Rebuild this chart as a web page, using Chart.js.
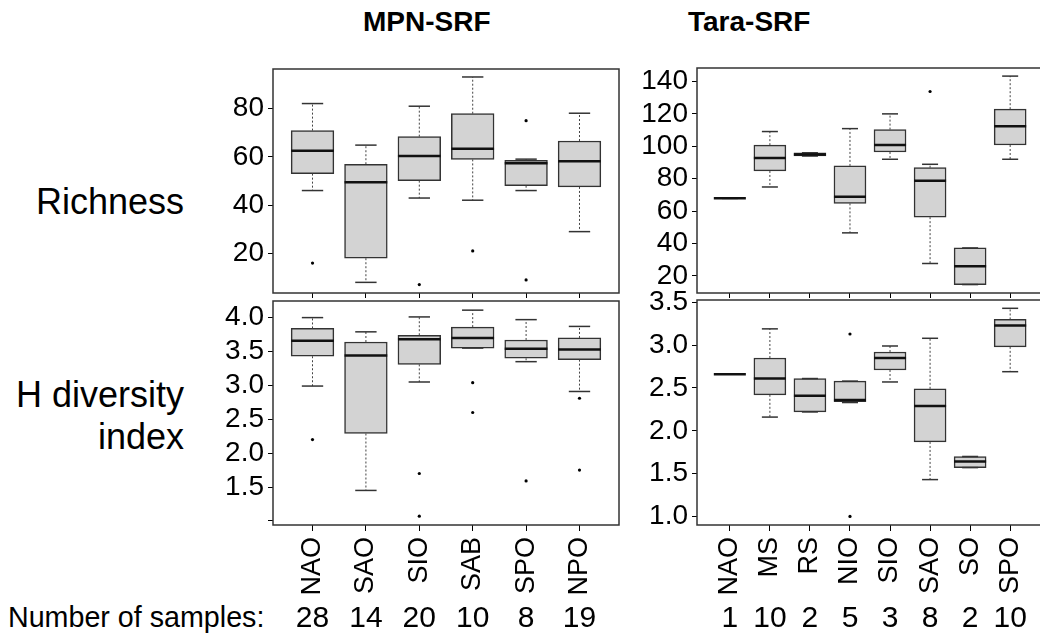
<!DOCTYPE html>
<html>
<head>
<meta charset="utf-8">
<script src="https://cdn.jsdelivr.net/npm/chart.js@4.4.1/dist/chart.umd.min.js"></script>
<style>
body { margin: 0; width: 1040px; height: 637px; overflow: hidden; background: #fff; position: relative;
       font-family: "Liberation Sans", Arial, sans-serif; color: #000; }
canvas { position: absolute; }
.lbl { position: absolute; white-space: nowrap; line-height: 1; }
</style>
</head>
<body>
<div class="lbl" style="left:363px; top:8px; font-size:28px; font-weight:bold;">MPN-SRF</div>
<div class="lbl" style="left:688px; top:8px; font-size:28px; font-weight:bold;">Tara-SRF</div>
<div class="lbl" style="right:856px; top:184px; font-size:36px; text-align:right;">Richness</div>
<div class="lbl" style="right:856px; top:377px; font-size:36px; text-align:right;">H diversity</div>
<div class="lbl" style="right:856px; top:419px; font-size:36px; text-align:right;">index</div>
<div class="lbl" style="left:8px; top:602px; font-size:30px; transform:scaleX(0.955); transform-origin:left;">Number of samples:</div>

<canvas id="richMpn" width="461" height="262" style="left:178px; top:49px;"></canvas>
<canvas id="richTara" width="461" height="263" style="left:602px; top:48px;"></canvas>
<canvas id="divMpn" width="461" height="356" style="left:178px; top:281px;"></canvas>
<canvas id="divTara" width="461" height="357" style="left:602px; top:280px;"></canvas>

<script>
// Regions and number of samples
var mpnRegions = ["NAO", "SAO", "SIO", "SAB", "SPO", "NPO"];
var mpnSamples = [28, 14, 20, 10, 8, 19];
var taraRegions = ["NAO", "MS", "RS", "NIO", "SIO", "SAO", "SO", "SPO"];
var taraSamples = [1, 10, 2, 5, 3, 8, 2, 10];

// Richness, MPN-SRF (whisker low, Q1, median, Q3, whisker high, outliers)
var mpnRichLow = [46.1, 8.1, 43.0, 42.1, 46.1, 29.1];
var mpnRichQ1 = [53.1, 18.1, 50.2, 59.0, 48.1, 47.6];
var mpnRichMed = [62.6, 49.5, 60.4, 63.4, 57.4, 58.2];
var mpnRichQ3 = [70.9, 57.0, 68.4, 77.9, 58.6, 66.6];
var mpnRichHigh = [82.1, 64.9, 81.0, 93.1, 59.1, 78.1];
var mpnRichOut = [[16.1], [], [7.2], [21.1], [75.0, 9.1], []];

// Richness, Tara-SRF
var taraRichLow = [67.9, 74.9, 94.0, 46.6, 92.0, 27.7, 14.7, 92.0];
var taraRichQ1 = [67.9, 84.8, 94.0, 64.8, 96.5, 56.3, 14.7, 100.8];
var taraRichMed = [67.9, 92.8, 95.0, 68.9, 100.8, 78.8, 26.0, 112.4];
var taraRichQ3 = [67.9, 100.7, 96.0, 87.9, 110.3, 86.8, 37.3, 122.9];
var taraRichHigh = [67.9, 109.1, 96.0, 110.9, 120.0, 88.9, 37.3, 143.3];
var taraRichOut = [[], [], [], [], [], [133.8], [], []];

// H diversity index, MPN-SRF
var mpnDivLow = [2.99, 1.45, 3.05, 3.55, 3.35, 2.91];
var mpnDivQ1 = [3.43, 2.29, 3.31, 3.55, 3.40, 3.38];
var mpnDivMed = [3.66, 3.44, 3.68, 3.70, 3.54, 3.53];
var mpnDivQ3 = [3.84, 3.64, 3.74, 3.86, 3.67, 3.70];
var mpnDivHigh = [4.00, 3.79, 4.01, 4.11, 3.97, 3.87];
var mpnDivOut = [[2.20], [], [1.70, 1.07], [3.04, 2.60], [1.59], [2.81, 1.75]];

// H diversity index, Tara-SRF
var taraDivLow = [2.66, 2.16, 2.22, 2.33, 2.57, 1.43, 1.57, 2.69];
var taraDivQ1 = [2.66, 2.42, 2.22, 2.34, 2.71, 1.87, 1.57, 2.98];
var taraDivMed = [2.66, 2.61, 2.41, 2.36, 2.85, 2.29, 1.64, 3.23];
var taraDivQ3 = [2.66, 2.85, 2.61, 2.58, 2.92, 2.49, 1.70, 3.30];
var taraDivHigh = [2.66, 3.19, 2.61, 2.58, 2.99, 3.08, 1.70, 3.43];
var taraDivOut = [[], [], [], [3.13, 1.0], [], [], [], []];

// Axis ticks
var mpnRichTicks = [20, 40, 60, 80];
var taraRichTicks = [20, 40, 60, 80, 100, 120, 140];
var mpnDivTicks = [1.0, 1.5, 2.0, 2.5, 3.0, 3.5, 4.0];
var taraDivTicks = [1.0, 1.5, 2.0, 2.5, 3.0, 3.5];

Chart.defaults.font.family = '"Liberation Sans", Arial, sans-serif';
Chart.defaults.color = "#000";

var framePlugin = {
	id: "frame",
	afterDraw: function (chart) {
		var a = chart.chartArea;
		var ctx = chart.ctx;
		ctx.save();
		ctx.strokeStyle = "#333";
		ctx.lineWidth = 1.5;
		ctx.strokeRect(a.left, a.top, a.right - a.left, a.bottom - a.top);
		ctx.restore();
	},
};

function whiskerPlugin(s) {
	return {
		id: "whiskers",
		afterDatasetsDraw: function (chart) {
			var ctx = chart.ctx;
			var x = chart.scales.x;
			var y = chart.scales.y;
			var unit = x.getPixelForValue(1) - x.getPixelForValue(0);
			function line(x1, y1, x2, y2) {
				ctx.beginPath();
				ctx.moveTo(x1, y1);
				ctx.lineTo(x2, y2);
				ctx.stroke();
			}
			ctx.save();
			for (var i = 0; i < s.med.length; i++) {
				var cx = x.getPixelForValue(i + 1);
				var half = unit * 0.4;
				var cap = unit * 0.2;
				ctx.strokeStyle = "#444";
				ctx.lineWidth = 1;
				ctx.setLineDash([2, 2]);
				line(cx, y.getPixelForValue(s.q3[i]), cx, y.getPixelForValue(s.high[i]));
				line(cx, y.getPixelForValue(s.q1[i]), cx, y.getPixelForValue(s.low[i]));
				ctx.setLineDash([]);
				ctx.strokeStyle = "#333";
				ctx.lineWidth = 1.5;
				line(cx - cap, y.getPixelForValue(s.high[i]), cx + cap, y.getPixelForValue(s.high[i]));
				line(cx - cap, y.getPixelForValue(s.low[i]), cx + cap, y.getPixelForValue(s.low[i]));
				ctx.strokeStyle = "#111";
				ctx.lineWidth = 2.5;
				line(cx - half, y.getPixelForValue(s.med[i]), cx + half, y.getPixelForValue(s.med[i]));
			}
			ctx.restore();
		},
	};
}

function countsPlugin(samples) {
	return {
		id: "counts",
		afterDraw: function (chart) {
			if (!samples) return;
			var ctx = chart.ctx;
			var x = chart.scales.x;
			ctx.save();
			ctx.font = '30px "Liberation Sans", Arial, sans-serif';
			ctx.fillStyle = "#000";
			ctx.textAlign = "center";
			ctx.textBaseline = "alphabetic";
			samples.forEach(function (v, i) {
				ctx.fillText(String(v), x.getPixelForValue(i + 1), chart.chartArea.bottom + 102);
			});
			ctx.restore();
		},
	};
}

function boxChart(id, regions, s, yMin, yMax, yTicks, decimals, hideTicks, samples) {
	var n = regions.length;
	var canvas = document.getElementById(id);
	var bottom = !!samples;
	var plotW = canvas.width - 95 - 20;
	var unit = plotW / (n * 1.08);
	var boxes = regions.map(function (r, i) {
		return { x: i + 1, y: [s.q1[i], s.q3[i]] };
	});
	var points = [];
	s.out.forEach(function (list, i) {
		list.forEach(function (v) {
			points.push({ x: i + 1, y: v });
		});
	});

	return new Chart(canvas, {
		type: "bar",
		data: {
			datasets: [
				{
					type: "bar",
					data: boxes,
					backgroundColor: "#d3d3d3",
					borderColor: "#333",
					borderWidth: 1.5,
					borderSkipped: false,
					barThickness: 0.8 * unit,
				},
				{
					type: "scatter",
					data: points,
					pointRadius: 1.6,
					pointBackgroundColor: "#000",
					pointBorderWidth: 0,
				},
			],
		},
		options: {
			responsive: false,
			animation: false,
			layout: { padding: { top: 20, right: 20, left: 0, bottom: bottom ? 32 : 10 } },
			plugins: {
				legend: { display: false },
				tooltip: { enabled: false },
			},
			scales: {
				x: {
					type: "linear",
					min: 0.5 - 0.04 * n,
					max: n + 0.5 + 0.04 * n,
					offset: false,
					grid: { offset: false, drawOnChartArea: false, tickLength: bottom ? 6 : 5, color: "#000" },
					border: { display: false },
					afterBuildTicks: function (scale) {
						scale.ticks = regions.map(function (r, i) {
							return { value: i + 1 };
						});
					},
					afterFit: function (scale) {
						scale.height = bottom ? 80 : 8;
						scale.paddingLeft = 0;
						scale.paddingRight = 0;
					},
					ticks: {
						display: bottom,
						autoSkip: false,
						minRotation: 90,
						maxRotation: 90,
						padding: 6,
						font: { size: 27 },
						callback: function (v, i) {
							return regions[i];
						},
					},
				},
				y: {
					min: yMin,
					max: yMax,
					beginAtZero: false,
					grid: { drawOnChartArea: false, tickLength: 5, color: "#000" },
					border: { display: false },
					afterBuildTicks: function (scale) {
						scale.ticks = yTicks.map(function (v) {
							return { value: v };
						});
					},
					afterFit: function (scale) {
						scale.width = 95;
						scale.paddingTop = 0;
						scale.paddingBottom = 0;
					},
					ticks: {
						padding: 4,
						font: { size: 28 },
						callback: function (v) {
							if (hideTicks.indexOf(v) >= 0) return "";
							return v.toFixed(decimals);
						},
					},
				},
			},
		},
		plugins: [framePlugin, whiskerPlugin(s), countsPlugin(samples)],
	});
}

boxChart("richMpn", mpnRegions,
	{ low: mpnRichLow, q1: mpnRichQ1, med: mpnRichMed, q3: mpnRichQ3, high: mpnRichHigh, out: mpnRichOut },
	3.7, 96.4, mpnRichTicks, 0, [], null);
boxChart("richTara", taraRegions,
	{ low: taraRichLow, q1: taraRichQ1, med: taraRichMed, q3: taraRichQ3, high: taraRichHigh, out: taraRichOut },
	9.5, 148.3, taraRichTicks, 0, [], null);
boxChart("divMpn", mpnRegions,
	{ low: mpnDivLow, q1: mpnDivQ1, med: mpnDivMed, q3: mpnDivQ3, high: mpnDivHigh, out: mpnDivOut },
	0.94, 4.245, mpnDivTicks, 1, [1.0], mpnSamples);
boxChart("divTara", taraRegions,
	{ low: taraDivLow, q1: taraDivQ1, med: taraDivMed, q3: taraDivQ3, high: taraDivHigh, out: taraDivOut },
	0.90, 3.527, taraDivTicks, 1, [], taraSamples);
</script>
</body>
</html>
